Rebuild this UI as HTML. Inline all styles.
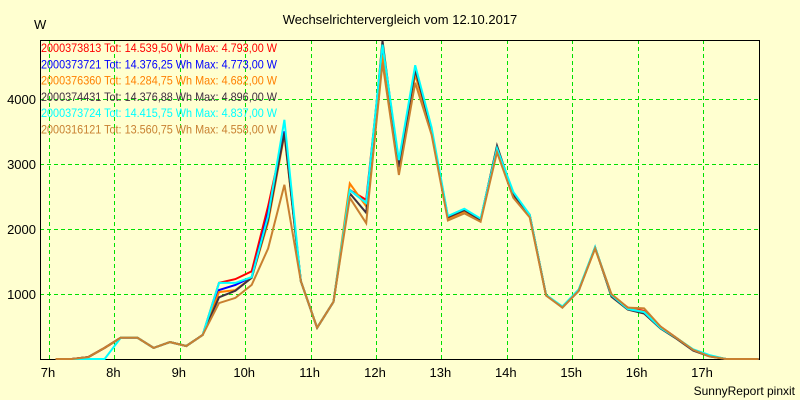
<!DOCTYPE html>
<html><head><meta charset="utf-8"><style>
body{margin:0;background:#ffffd0;}
svg{display:block;font-family:"Liberation Sans",sans-serif;}
</style></head><body>
<svg id="chart" width="800" height="400" viewBox="0 0 800 400">
<rect width="800" height="400" fill="#ffffd0"/>
<text x="400" y="24" text-anchor="middle" font-size="13">Wechselrichtervergleich vom 12.10.2017</text>
<text x="34" y="29" font-size="13">W</text>
<text x="795" y="395" text-anchor="end" font-size="12">SunnyReport pinxit</text>
<g id="grid"></g>
<g id="axes"></g>
<g id="series"></g>
<g id="legend"></g>
</svg>
<script>
const times = [7.1,7.35,7.6,7.85,8.1,8.35,8.6,8.85,9.1,9.35,9.6,9.85,10.1,10.35,10.6,10.85,11.1,11.35,11.6,11.85,12.1,12.35,12.6,12.85,13.1,13.35,13.6,13.85,14.1,14.35,14.6,14.85,15.1,15.35,15.6,15.85,16.1,16.35,16.6,16.85,17.1,17.35,17.6,17.85];
const sRed =   [0,0,30,170,330,330,170,260,200,370,1170,1230,1350,2350,3500,1200,480,880,2600,2450,4793,2950,4400,3520,2180,2290,2140,3260,2520,2210,985,800,1060,1710,985,790,740,500,320,140,50,0,0,0];
const sBlue =  [0,0,30,170,330,330,170,260,200,370,1060,1140,1260,2250,3500,1200,480,880,2600,2400,4773,2950,4400,3520,2180,2290,2140,3260,2520,2210,985,800,1060,1710,985,780,730,490,320,140,50,0,0,0];
const sOrange =[0,0,30,170,330,330,170,260,200,370,1030,1060,1250,2100,3450,1200,480,880,2700,2350,4682,2950,4380,3500,2160,2270,2130,3220,2500,2200,985,800,1060,1700,985,780,730,490,320,140,50,0,0,0];
const sDark =  [0,0,30,170,330,330,170,260,200,370,950,1050,1250,2150,3480,1200,480,880,2550,2250,4896,2950,4450,3520,2180,2290,2140,3280,2530,2220,985,790,1050,1720,960,760,700,470,310,130,40,0,0,0];
const sCyan =  [0,0,0,0,330,330,170,260,200,370,1170,1170,1260,2200,3680,1200,480,880,2600,2400,4837,3060,4520,3560,2200,2310,2160,3240,2570,2220,985,810,1070,1720,985,770,720,480,320,150,60,0,0,0];
const sBrown = [0,0,30,170,330,330,170,260,200,370,860,940,1140,1700,2680,1200,480,880,2480,2090,4558,2830,4250,3450,2130,2240,2110,3180,2480,2180,975,790,1050,1700,1000,790,780,500,320,140,40,0,0,0];
const seriesNames = ["2000373813","2000373721","2000376360","2000374431","2000373724","2000316121"];
const legendTexts = ["2000373813 Tot: 14.539,50 Wh Max: 4.793,00 W","2000373721 Tot: 14.376,25 Wh Max: 4.773,00 W","2000376360 Tot: 14.284,75 Wh Max: 4.682,00 W","2000374431 Tot: 14.376,88 Wh Max: 4.896,00 W","2000373724 Tot: 14.415,75 Wh Max: 4.837,00 W","2000316121 Tot: 13.560,75 Wh Max: 4.558,00 W"];
const yTicks = [1000,2000,3000,4000];
const xTicks = [7,8,9,10,11,12,13,14,15,16,17];
const allSeries = [sRed,sBlue,sOrange,sDark,sCyan,sBrown];
const colors = ["#ff0000","#0000ff","#ff8000","#403040","#00ffff","#c88030"];
const NS="http://www.w3.org/2000/svg";
const L=40,R=759,T=40,B=359;
function xs(t){return 49+(t-7)*65.4;}
function ys(v){return 359-v*0.065;}
function mk(tag,attrs,parent){const e=document.createElementNS(NS,tag);for(const k in attrs)e.setAttribute(k,attrs[k]);parent.appendChild(e);return e;}
const grid=document.getElementById('grid'),axes=document.getElementById('axes'),ser=document.getElementById('series'),leg=document.getElementById('legend');
yTicks.forEach(v=>{const y=ys(v)+0.5;
 const g=mk('line',{x1:L,x2:R,y1:y,y2:y,stroke:'#00e000','stroke-dasharray':'4,3'},grid);
 
 
 const t=mk('text',{x:36,y:ys(v)+5,'text-anchor':'end','font-size':'13'},axes);t.textContent=v;
 
 });
xTicks.forEach(h=>{const x=Math.round(xs(h))+0.5;
 const g=mk('line',{x1:x,x2:x,y1:T,y2:B,stroke:'#00e000','stroke-dasharray':'4,3'},grid);
 
 
 const t=mk('text',{x:xs(h)-1,y:377,'text-anchor':'middle','font-size':'13'},axes);t.textContent=h+'h';
 
 });
const fr=mk('path',{d:`M${L+0.5} ${T+0.5}H${R+0.5}V${B+0.5}H${L+0.5}Z`,fill:'none',stroke:'#000'},axes);


allSeries.forEach((s,i)=>{const pts=s.map((v,k)=>xs(times[k]).toFixed(1)+','+ys(v).toFixed(1)).join(' ');
 const p=mk('polyline',{points:pts,fill:'none',stroke:colors[i],'stroke-width':'2','stroke-linejoin':'miter'},ser);
 
 });
legendTexts.forEach((txt,i)=>{const t=mk('text',{x:41,y:52+i*16.3,'font-size':'12',fill:colors[i],textLength:'236',lengthAdjust:'spacingAndGlyphs'},leg);t.textContent=txt;
 
 });
</script>
</body></html>
